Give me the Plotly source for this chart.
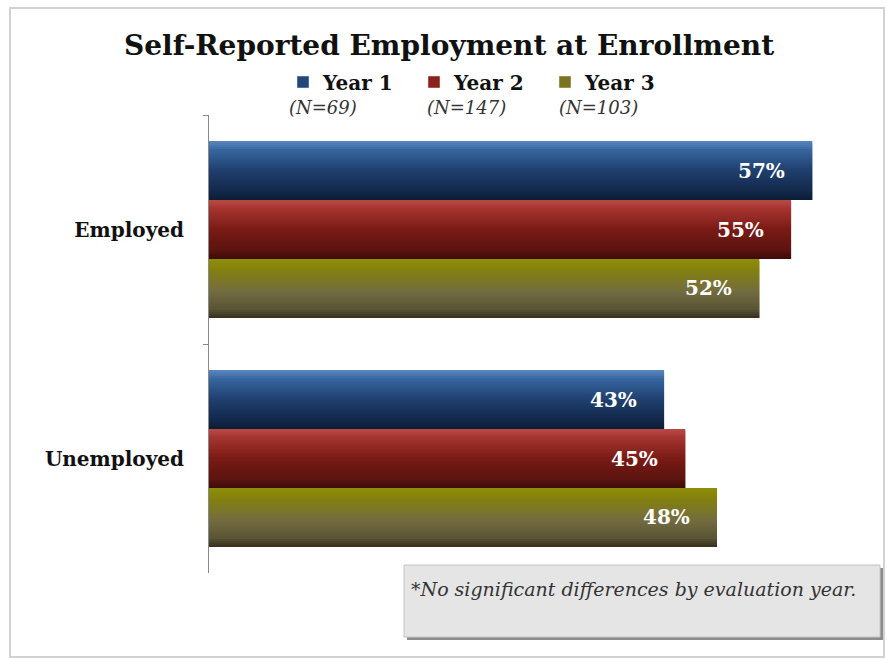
import plotly.graph_objects as go

# Survey data
categories = ["Employed", "Unemployed"]
years = ["Year 1", "Year 2", "Year 3"]
sample_sizes = ["(N=69)", "(N=147)", "(N=103)"]
year1 = [0.57, 0.43]
year2 = [0.55, 0.45]
year3 = [0.52, 0.48]
series = [year1, year2, year3]

# Vertical gradient stops (top -> bottom) for each year's bars
gradients = [
    [(0.0, "#5a87c0"), (0.15, "#3766a0"), (0.5, "#1f3f6e"), (0.85, "#13294b"), (1.0, "#0c1b33")],
    [(0.0, "#b84a45"), (0.15, "#a5342f"), (0.5, "#7a1a15"), (0.85, "#5c1410"), (1.0, "#3d0c09")],
    [(0.0, "#8e8e08"), (0.2, "#838010"), (0.55, "#736c40"), (0.85, "#5a5436"), (1.0, "#34301c")],
]
legend_colors = ["#24477a", "#8a211c", "#7a7420"]

SERIF = "DejaVu Serif"
N_SLICES = 30
BAR_W = 0.2576
GROUP_START = -1.5 * BAR_W


def hex_to_rgb(h):
    h = h.lstrip("#")
    return tuple(int(h[i:i + 2], 16) for i in (0, 2, 4))


def grad_color(stops, t):
    for (t0, c0), (t1, c1) in zip(stops[:-1], stops[1:]):
        if t0 <= t <= t1:
            f = (t - t0) / (t1 - t0) if t1 > t0 else 0
            a, b = hex_to_rgb(c0), hex_to_rgb(c1)
            r = [round(a[i] + (b[i] - a[i]) * f) for i in range(3)]
            return "rgb(%d,%d,%d)" % tuple(r)
    return stops[-1][1]


fig = go.Figure()

# Each bar is built from thin horizontal slices to give a shaded, bevelled look
slice_w = BAR_W / N_SLICES
for k, (name, values) in enumerate(zip(years, series)):
    for j in range(N_SLICES):
        t = (j + 0.5) / N_SLICES
        last = j == N_SLICES - 1
        fig.add_trace(go.Bar(
            x=values, y=categories, orientation="h",
            offset=GROUP_START + k * BAR_W + j * slice_w,
            width=slice_w * (1.0 if last else 2.0),
            marker=dict(color=grad_color(gradients[k], t), line=dict(width=0)),
            showlegend=False, hoverinfo="skip",
        ))
    # legend entry for the year
    fig.add_trace(go.Bar(
        x=[None], y=[None], orientation="h", name=name,
        marker=dict(color=legend_colors[k]), showlegend=True,
    ))

annotations = []
# value labels inside bar ends
for k, values in enumerate(series):
    for i, v in enumerate(values):
        annotations.append(dict(
            x=v, y=i + GROUP_START + (k + 0.5) * BAR_W, xref="x", yref="y",
            text="%d%%" % round(v * 100), showarrow=False,
            xanchor="right", yanchor="middle", xshift=-25,
            font=dict(family=SERIF, size=20, color="white", weight="bold"),
        ))

# plot area in pixels: x 209..844, y 115..573
def px(xp):
    return (xp - 209) / 635.0


def py(yp):
    return (573 - yp) / 458.0


annotations.append(dict(
    x=px(449), y=py(46), xref="paper", yref="paper",
    text="<b>Self-Reported Employment at Enrollment</b>", showarrow=False,
    xanchor="center", yanchor="middle",
    font=dict(family=SERIF, size=28, color="#111"),
))
for label, cx in zip(sample_sizes, [323, 466, 598]):
    annotations.append(dict(
        x=px(cx), y=py(108), xref="paper", yref="paper",
        text="<i>%s</i>" % label, showarrow=False,
        xanchor="center", yanchor="middle",
        font=dict(family=SERIF, size=18, color="#333"),
    ))
annotations.append(dict(
    x=px(409), y=py(589), xref="paper", yref="paper",
    text="<i>*No significant differences by evaluation year.</i>", showarrow=False,
    xanchor="left", yanchor="middle",
    font=dict(family=SERIF, size=19, color="#333"),
))

shapes = [
    # outer frame
    dict(type="rect", xref="paper", yref="paper",
         x0=px(10), x1=px(884), y0=py(657), y1=py(8),
         line=dict(color="#d2d2d2", width=2), fillcolor="rgba(0,0,0,0)", layer="below"),
    # footnote box shadow and box
    dict(type="rect", xref="paper", yref="paper",
         x0=px(407), x1=px(883), y0=py(640), y1=py(568),
         line=dict(width=0), fillcolor="#8c8c8c"),
    dict(type="rect", xref="paper", yref="paper",
         x0=px(404), x1=px(880), y0=py(637), y1=py(565),
         line=dict(color="#c4c4c4", width=1), fillcolor="#e5e5e5"),
]

fig.update_layout(
    width=887, height=659,
    margin=dict(l=209, r=43, t=115, b=86),
    paper_bgcolor="white", plot_bgcolor="white",
    barmode="overlay",
    showlegend=True,
    legend=dict(
        orientation="h", x=px(283), y=py(82), xanchor="left", yanchor="middle",
        entrywidth=86, entrywidthmode="pixels", itemwidth=30,
        font=dict(family=SERIF, size=20, color="#111", weight="bold"),
        bgcolor="rgba(0,0,0,0)", traceorder="normal",
    ),
    xaxis=dict(range=[0, 0.6], visible=False),
    yaxis=dict(
        autorange="reversed", type="category",
        showline=True, linecolor="#8a8a8a", linewidth=1,
        ticks="outside", tickson="boundaries", ticklen=5, tickcolor="#8a8a8a",
        ticklabelstandoff=20, showgrid=False,
        tickfont=dict(family=SERIF, size=20, color="#111", weight="bold"),
    ),
    annotations=annotations,
    shapes=shapes,
)

fig.write_html("out.html")
